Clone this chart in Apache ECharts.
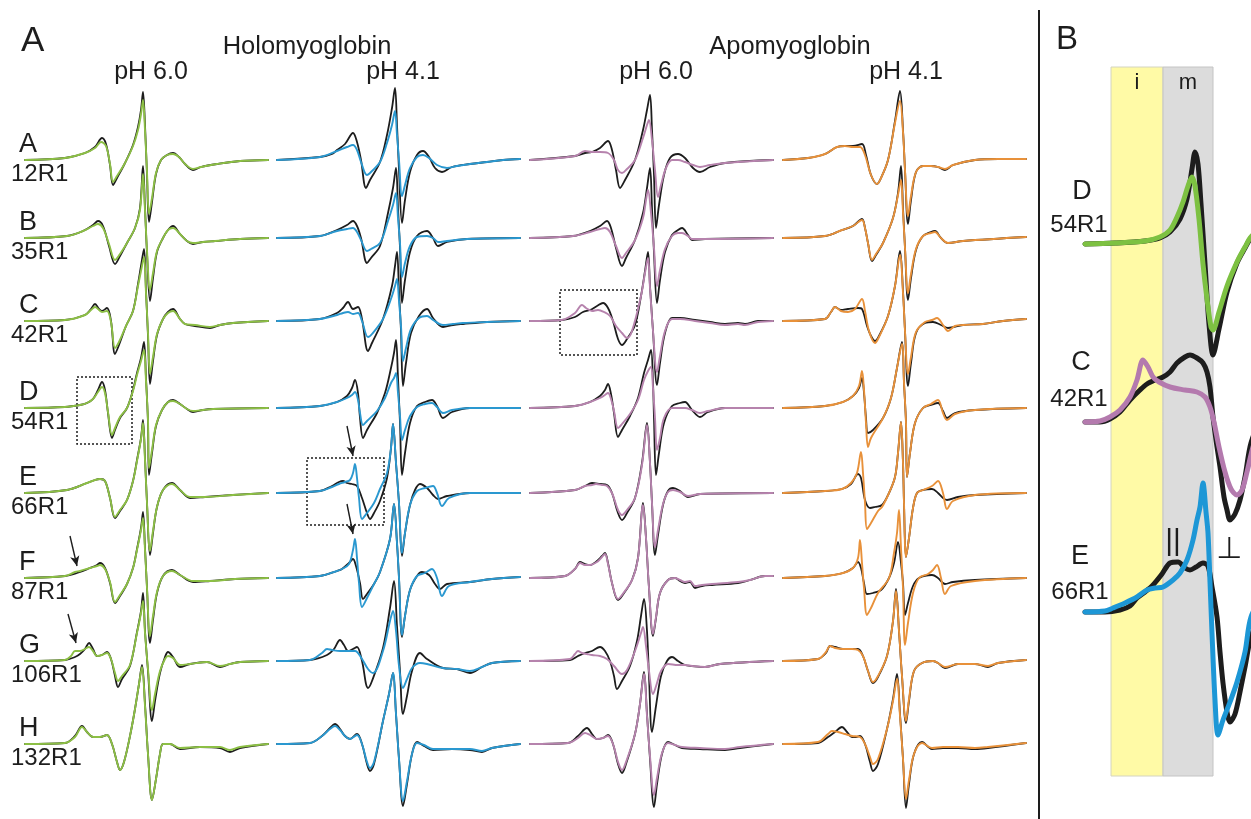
<!DOCTYPE html>
<html>
<head>
<meta charset="utf-8">
<title>EPR spectra of myoglobin mutants</title>
<script src="https://cdn.jsdelivr.net/npm/echarts/dist/echarts.min.js"></script>
<style>
html,body{margin:0;padding:0;background:#fff}
#container{width:1251px;height:819px}
</style>
</head>
<body>
<div id="container"></div>
<script>
// labels
var rowLetters = ['A','B','C','D','E','F','G','H'];
var rowSites = ['12R1','35R1','42R1','54R1','66R1','87R1','106R1','132R1'];
var proteinTitles = ['Holomyoglobin','Apomyoglobin'];
var phLabels = ['pH 6.0','pH 4.1','pH 6.0','pH 4.1'];
var bandNames = ['i','m'];

// spectra: [field (px from sweep start), amplitude (px above baseline)]
var holo60Black = [
  [[0,0],[40,2],[60,7],[70,13],[77,22],[81,16],[85,-5],[88,-25],[92,-18],[100,-3],[108,15],[113,33],[116,50],[118,68],[120,35],[122,-15],[124,-62],[127,-42],[131,-14],[136,0],[142,5],[148,7],[154,3],[160,-4],[168,-10],[176,-7],[192,-4],[215,-1],[243,0]],
  [[0,0],[42,2],[58,7],[68,13],[73,17],[78,12],[84,-8],[90,-26],[95,-18],[102,-5],[110,10],[115,30],[118,72],[120,30],[122,-15],[125,-63],[128,-40],[132,-14],[138,0],[143,8],[148,12],[155,4],[162,-3],[168,-6],[178,-4],[190,-3],[215,-1],[243,0]],
  [[0,0],[40,1],[60,6],[66,12],[70,17],[74,12],[77,10],[82,13],[86,0],[90,-33],[94,-24],[101,-5],[108,10],[113,37],[116,55],[119,72],[121,30],[123,-15],[125,-63],[128,-40],[132,-14],[138,2],[143,9],[148,12],[155,2],[160,-3],[170,-5],[185,-7],[195,-4],[208,-2],[243,0]],
  [[0,0],[40,1],[55,3],[62,5],[68,9],[73,18],[77,26],[80,18],[83,-5],[87,-30],[90,-22],[95,-10],[102,0],[108,18],[112,35],[116,50],[119,66],[121,30],[123,-15],[124,-67],[127,-45],[131,-18],[137,-2],[143,6],[148,8],[155,4],[162,-1],[168,-4],[178,-2],[188,-1],[243,0]],
  [[0,0],[42,3],[62,10],[70,13],[75,14],[80,12],[85,-5],[90,-25],[95,-18],[102,-7],[108,12],[112,33],[116,55],[118,73],[120,35],[122,-10],[125,-62],[128,-40],[132,-14],[138,3],[147,10],[155,3],[165,-5],[180,-4],[208,-2],[243,0]],
  [[0,0],[40,2],[52,5],[65,10],[72,13],[75,15],[80,10],[85,-5],[90,-25],[95,-18],[102,-6],[108,10],[112,29],[116,50],[118,66],[120,30],[122,-10],[125,-65],[128,-42],[132,-15],[138,2],[147,8],[155,3],[168,-4],[185,-3],[210,-1],[243,0]],
  [[0,0],[40,1],[50,4],[55,7],[60,12],[64,18],[68,12],[72,5],[77,6],[82,9],[86,2],[90,-15],[93,-26],[97,-18],[105,-5],[112,29],[116,50],[118,68],[120,30],[123,-10],[127,-60],[130,-40],[135,-12],[140,4],[143,9],[148,4],[155,-6],[165,-3],[182,-1],[195,-6],[205,-3],[215,-1],[243,0]],
  [[0,0],[40,1],[50,8],[57,18],[62,12],[68,7],[75,7],[82,9],[87,0],[92,-18],[95,-26],[99,-18],[105,8],[110,35],[114,60],[117,79],[120,40],[123,-10],[127,-56],[131,-35],[135,-10],[138,0],[145,0],[155,-5],[175,-3],[195,-4],[205,-8],[215,-4],[243,0]]
];
var holo60Green = [
  [[0,0],[40,2],[60,7],[70,12],[76,18],[81,14],[85,-4],[88,-22],[92,-16],[100,-3],[108,14],[113,30],[116,46],[118,60],[120,30],[122,-12],[124,-54],[127,-38],[131,-13],[136,0],[142,5],[148,6],[154,3],[160,-4],[168,-9],[176,-7],[192,-4],[215,-1],[243,0]],
  [[0,0],[42,2],[58,7],[68,12],[73,14],[78,10],[84,-6],[90,-22],[95,-16],[102,-5],[110,10],[115,28],[118,64],[120,28],[122,-12],[125,-52],[128,-35],[132,-13],[138,0],[143,8],[148,10],[155,4],[162,-3],[168,-5],[178,-4],[190,-3],[215,-1],[243,0]],
  [[0,0],[40,1],[60,6],[66,11],[70,14],[74,11],[77,9],[82,10],[86,-1],[90,-27],[94,-21],[101,-5],[108,10],[113,35],[116,50],[119,64],[121,28],[123,-12],[125,-53],[128,-36],[132,-13],[138,2],[143,8],[148,10],[155,2],[160,-3],[170,-4],[185,-6],[195,-4],[208,-2],[243,0]],
  [[0,0],[40,1],[55,3],[62,5],[68,9],[73,16],[77,21],[80,15],[83,-4],[87,-27],[90,-20],[95,-9],[102,0],[108,17],[112,33],[116,47],[119,58],[121,27],[123,-12],[124,-60],[127,-42],[131,-17],[137,-2],[143,6],[148,7],[155,4],[162,-1],[168,-3],[178,-2],[188,-1],[243,0]],
  [[0,0],[42,3],[62,10],[70,13],[75,14],[80,12],[85,-5],[90,-24],[95,-17],[102,-7],[108,12],[112,32],[116,54],[118,70],[120,33],[122,-10],[125,-58],[128,-38],[132,-14],[138,3],[147,9],[155,3],[165,-4],[180,-4],[208,-2],[243,0]],
  [[0,0],[40,2],[50,6],[55,7],[65,10],[72,12],[75,13],[80,9],[85,-4],[90,-24],[95,-17],[102,-6],[108,10],[112,28],[116,48],[118,60],[120,28],[122,-10],[125,-58],[128,-38],[132,-14],[138,2],[147,7],[155,3],[168,-3],[185,-3],[210,-1],[243,0]],
  [[0,0],[40,1],[46,5],[50,10],[55,10],[60,12],[64,14],[68,10],[72,5],[77,6],[82,8],[86,2],[90,-12],[93,-20],[97,-15],[105,-4],[112,28],[116,48],[118,60],[120,28],[123,-8],[127,-49],[130,-33],[135,-10],[140,2],[143,5],[148,3],[155,-4],[165,-3],[182,-1],[195,-5],[205,-3],[215,-1],[243,0]],
  [[0,0],[40,1],[50,7],[57,17],[62,12],[68,7],[75,7],[82,9],[87,0],[92,-18],[95,-26],[99,-18],[105,8],[110,35],[114,60],[117,77],[120,38],[123,-10],[127,-56],[131,-35],[135,-10],[138,0],[145,0],[155,-4],[175,-3],[195,-3],[205,-6],[215,-3],[243,0]]
];
var holo41Black = [
  [[0,0],[43,3],[55,6],[60,10],[68,16],[76,27],[80,18],[84,0],[89,-28],[93,-20],[103,-2],[110,25],[115,52],[118,72],[120,35],[122,-10],[125,-63],[128,-40],[133,-12],[140,5],[146,9],[152,3],[158,-8],[165,-12],[175,-7],[193,-4],[210,-2],[226,0],[243,1]],
  [[0,0],[43,2],[60,8],[70,13],[76,17],[80,12],[84,0],[90,-25],[94,-20],[103,-8],[111,25],[116,50],[119,70],[121,30],[123,-10],[125,-65],[128,-42],[133,-14],[140,2],[150,7],[156,0],[161,-8],[170,-4],[190,-1],[243,0]],
  [[0,0],[43,2],[60,8],[66,13],[71,19],[76,12],[81,14],[85,2],[91,-30],[95,-22],[106,2],[115,35],[118,55],[120,69],[122,30],[124,-10],[126,-65],[129,-42],[134,-12],[142,5],[150,12],[156,3],[166,-6],[176,-4],[186,-3],[210,-1],[243,0]],
  [[0,0],[43,2],[60,6],[70,12],[75,20],[78,28],[81,15],[83,-10],[86,-30],[90,-22],[100,-5],[108,15],[114,40],[117,55],[119,68],[121,30],[123,-15],[125,-67],[128,-45],[133,-15],[140,2],[148,6],[155,8],[160,2],[166,-10],[175,-4],[193,0],[243,0]],
  [[0,0],[43,2],[55,7],[62,11],[66,12],[70,10],[75,9],[80,7],[85,-5],[90,-20],[93,-26],[97,-20],[103,-8],[110,15],[114,45],[116,69],[119,30],[122,-10],[125,-63],[128,-40],[133,-12],[138,3],[143,9],[150,5],[156,-2],[161,-6],[170,-3],[193,0],[243,0]],
  [[0,0],[43,2],[60,7],[65,9],[72,15],[76,19],[79,12],[83,-5],[86,-21],[90,-16],[97,-6],[103,6],[113,39],[117,74],[120,35],[122,0],[125,-59],[128,-38],[133,-12],[140,2],[145,6],[152,3],[158,-6],[163,-11],[170,-6],[193,-4],[215,-1],[243,1]],
  [[0,0],[33,1],[50,6],[57,12],[63,21],[67,16],[71,10],[76,12],[80,14],[85,0],[91,-27],[95,-20],[106,13],[113,53],[117,80],[120,35],[123,-10],[126,-53],[130,-35],[135,-10],[143,8],[150,2],[166,-7],[180,-8],[193,-12],[205,-6],[215,-2],[243,0]],
  [[0,0],[33,1],[45,8],[53,16],[58,20],[63,15],[68,8],[73,5],[80,10],[85,0],[90,-20],[93,-27],[97,-20],[106,23],[112,50],[116,71],[119,30],[122,-15],[126,-62],[130,-40],[135,-10],[140,2],[147,-2],[156,-6],[175,-5],[193,-6],[205,-8],[215,-4],[243,0]]
];
var holo41Blue = [
  [[0,0],[43,3],[60,9],[70,13],[76,15],[80,10],[84,-2],[90,-15],[94,-12],[103,-2],[110,17],[115,35],[118,49],[120,25],[122,0],[125,-36],[128,-25],[133,-8],[140,3],[146,5],[152,2],[160,-5],[170,-8],[180,-6],[193,-4],[210,-2],[226,0],[243,1]],
  [[0,0],[43,2],[60,7],[70,9],[76,10],[80,6],[84,-2],[90,-13],[94,-11],[103,-5],[111,17],[116,33],[119,45],[121,20],[123,-5],[125,-39],[128,-25],[133,-8],[140,1],[150,2],[156,0],[161,-4],[170,-3],[190,-1],[243,0]],
  [[0,0],[43,2],[60,6],[66,8],[71,9],[76,7],[81,8],[85,0],[91,-16],[95,-13],[106,2],[115,25],[118,35],[120,42],[122,20],[124,-5],[126,-40],[129,-27],[134,-8],[142,3],[150,5],[156,1],[166,-4],[176,-3],[186,-2],[210,-1],[243,0]],
  [[0,0],[43,2],[60,6],[70,10],[75,13],[78,16],[81,8],[83,-5],[86,-17],[90,-13],[100,-3],[108,10],[114,25],[117,30],[119,35],[121,15],[123,-8],[125,-32],[128,-22],[133,-8],[140,1],[148,4],[155,5],[160,1],[166,-5],[175,-2],[193,0],[243,0]],
  [[0,0],[43,2],[55,6],[62,9],[68,11],[73,13],[76,20],[78,29],[80,15],[82,-5],[85,-26],[90,-20],[97,-10],[103,4],[110,20],[114,45],[116,69],[119,30],[122,-10],[125,-60],[128,-40],[133,-12],[140,2],[148,5],[156,7],[160,0],[165,-13],[172,-5],[193,0],[243,0]],
  [[0,0],[43,2],[60,7],[65,9],[72,14],[76,28],[78,39],[80,20],[82,-5],[85,-29],[90,-20],[97,-6],[103,6],[113,39],[117,74],[120,35],[122,0],[125,-57],[128,-38],[133,-12],[140,2],[148,5],[155,9],[160,0],[165,-18],[172,-8],[193,-4],[215,-1],[243,1]],
  [[0,0],[33,1],[45,8],[50,12],[55,11],[63,10],[71,10],[78,10],[85,2],[91,-8],[96,-12],[106,10],[113,40],[116,50],[119,30],[122,-5],[126,-27],[130,-18],[135,-7],[143,-2],[150,-3],[166,-7],[180,-8],[193,-10],[205,-6],[215,-2],[243,0]],
  [[0,0],[33,1],[45,8],[53,15],[58,18],[63,14],[68,8],[73,5],[80,9],[85,0],[90,-18],[93,-24],[97,-18],[106,23],[112,50],[116,71],[119,30],[122,-15],[126,-57],[130,-37],[135,-10],[140,1],[147,-1],[156,-5],[175,-5],[193,-5],[205,-7],[215,-4],[243,0]]
];
var apo60Black = [
  [[0,0],[45,4],[55,7],[62,8],[70,12],[78,19],[82,10],[86,-10],[90,-28],[95,-20],[105,0],[113,30],[117,50],[120,65],[122,30],[124,-15],[126,-68],[129,-45],[134,-15],[140,2],[148,6],[155,2],[163,-8],[170,-12],[180,-7],[195,-3],[243,0]],
  [[0,0],[43,2],[60,7],[70,12],[77,17],[81,10],[86,-10],[92,-28],[96,-20],[105,-2],[113,25],[117,50],[120,70],[122,30],[124,-15],[127,-65],[130,-42],[135,-14],[142,3],[148,8],[152,10],[158,3],[162,-2],[175,-1],[243,0]],
  [[0,0],[32,1],[45,4],[53,9],[60,11],[67,15],[73,18],[78,13],[83,0],[88,-18],[92,-24],[97,-18],[105,-4],[111,25],[115,50],[118,69],[120,35],[123,-10],[127,-64],[130,-42],[135,-12],[142,3],[150,3],[165,1],[180,-1],[195,-3],[208,-2],[215,-3],[228,0],[243,0]],
  [[0,0],[45,2],[60,6],[70,12],[75,18],[78,24],[81,14],[84,-5],[88,-29],[92,-22],[100,-8],[108,10],[114,35],[118,48],[121,58],[123,25],[124,-10],[126,-67],[129,-45],[134,-15],[142,2],[150,5],[155,6],[162,-2],[170,-9],[178,-4],[195,0],[243,0]],
  [[0,0],[45,3],[55,7],[62,10],[70,9],[77,8],[82,0],[88,-20],[92,-27],[97,-20],[105,-5],[112,30],[117,70],[120,30],[122,-10],[125,-62],[128,-42],[133,-12],[138,2],[143,5],[150,2],[158,-4],[170,-1],[243,0]],
  [[0,0],[35,2],[45,9],[50,16],[55,14],[60,13],[67,17],[72,22],[75,25],[78,15],[82,-5],[88,-22],[92,-18],[102,-2],[108,20],[113,75],[116,40],[119,-10],[123,-58],[126,-40],[130,-15],[138,-2],[145,0],[150,-3],[155,-5],[160,-4],[165,-10],[172,-8],[182,-7],[208,-5],[220,-2],[235,2],[243,2]],
  [[0,0],[40,1],[48,5],[55,8],[62,10],[70,14],[75,10],[80,0],[84,-15],[87,-28],[92,-20],[100,-5],[107,20],[111,45],[114,62],[117,30],[119,-15],[122,-71],[126,-45],[131,-15],[137,0],[142,4],[148,0],[155,-4],[162,-5],[175,-6],[190,-3],[243,0]],
  [[0,0],[38,1],[48,8],[57,16],[62,10],[67,5],[73,6],[78,9],[83,0],[88,-20],[92,-29],[96,-20],[105,10],[110,40],[114,72],[117,30],[120,-15],[124,-63],[127,-40],[132,-10],[138,2],[145,-1],[152,-4],[170,-5],[195,-6],[210,-4],[243,0]]
];
var apo60Purple = [
  [[0,0],[45,4],[55,9],[62,8],[70,8],[78,7],[84,0],[88,-10],[92,-13],[97,-9],[105,0],[113,22],[117,35],[119,40],[122,20],[125,-10],[128,-37],[131,-25],[136,-8],[142,0],[148,0],[155,-2],[163,-5],[170,-7],[180,-5],[195,-3],[243,0]],
  [[0,0],[43,2],[60,6],[70,9],[75,10],[80,6],[86,-8],[92,-20],[96,-15],[105,-2],[113,20],[116,38],[118,48],[121,25],[124,-10],[127,-48],[130,-32],[135,-11],[142,2],[148,5],[152,5],[158,2],[162,-1],[175,-1],[243,0]],
  [[0,0],[32,1],[45,8],[52,16],[56,13],[62,10],[68,11],[74,9],[80,5],[86,-5],[92,-12],[97,-17],[102,-10],[111,25],[115,48],[118,63],[120,33],[123,-10],[127,-51],[130,-35],[135,-10],[142,2],[150,2],[165,0],[180,-2],[195,-4],[208,-3],[215,-4],[228,-1],[243,0]],
  [[0,0],[45,2],[60,6],[70,10],[75,13],[78,15],[81,9],[84,-3],[88,-20],[92,-16],[100,-6],[108,8],[114,28],[118,37],[121,41],[123,20],[125,-10],[127,-42],[130,-30],[134,-10],[142,0],[150,0],[155,0],[162,-2],[170,-5],[178,-3],[195,0],[243,0]],
  [[0,0],[45,3],[55,7],[62,8],[66,9],[72,8],[77,7],[82,0],[88,-17],[92,-22],[97,-17],[105,-5],[112,28],[117,68],[120,30],[122,-10],[125,-54],[128,-37],[133,-11],[138,1],[143,3],[150,1],[158,-3],[170,-1],[243,0]],
  [[0,0],[35,2],[45,9],[50,15],[55,13],[60,13],[67,16],[72,21],[75,24],[78,14],[82,-5],[88,-21],[92,-17],[102,-2],[108,20],[113,73],[116,40],[119,-10],[123,-56],[126,-39],[130,-15],[138,-2],[145,0],[150,-2],[155,-4],[160,-3],[165,-8],[172,-7],[182,-6],[208,-4],[220,-2],[235,2],[243,2]],
  [[0,0],[40,2],[45,7],[48,10],[52,8],[57,7],[62,6],[70,5],[77,2],[84,-5],[92,-13],[97,-9],[105,10],[111,28],[113,34],[116,15],[119,-10],[123,-33],[127,-22],[131,-10],[138,-3],[148,-4],[155,-4],[162,-5],[175,-6],[190,-3],[243,0]],
  [[0,0],[38,1],[48,6],[55,11],[60,9],[67,5],[73,6],[78,8],[83,0],[88,-18],[92,-26],[96,-18],[105,10],[110,40],[114,70],[117,28],[120,-12],[124,-51],[127,-34],[132,-9],[138,1],[145,-1],[152,-3],[170,-4],[195,-5],[210,-3],[243,0]]
];
var apo41Black = [
  [[0,0],[25,2],[42,6],[54,13],[62,14],[70,14],[79,16],[83,5],[88,-15],[94,-24],[98,-18],[105,0],[112,39],[117,69],[120,30],[122,-10],[125,-64],[128,-40],[133,-12],[140,-6],[148,-6],[155,-7],[162,-10],[170,-5],[192,0],[215,1],[243,1]],
  [[0,0],[42,2],[59,8],[70,12],[79,19],[82,10],[85,-5],[89,-23],[93,-17],[100,-5],[110,20],[115,45],[118,72],[120,30],[122,-10],[125,-62],[128,-40],[133,-12],[140,2],[148,6],[152,7],[158,0],[165,-5],[180,-3],[243,1]],
  [[0,0],[42,2],[48,9],[52,14],[58,11],[65,12],[75,13],[79,12],[84,-5],[88,-15],[92,-20],[96,-15],[105,5],[112,35],[117,70],[120,30],[122,-10],[125,-65],[128,-42],[133,-12],[142,-2],[150,-1],[158,-4],[165,-7],[180,-4],[200,-3],[220,0],[243,2]],
  [[0,0],[42,2],[60,6],[70,12],[76,20],[79,30],[81,15],[83,-10],[85,-25],[90,-22],[100,-10],[108,10],[114,40],[119,66],[121,25],[123,-15],[124,-69],[127,-45],[132,-15],[140,0],[148,3],[155,5],[160,-3],[164,-10],[172,-5],[192,-2],[243,0]],
  [[0,0],[42,2],[59,4],[68,9],[75,19],[78,15],[82,-7],[87,-15],[92,-14],[99,-12],[106,0],[112,16],[115,40],[118,71],[120,30],[121,-10],[123,-64],[126,-45],[130,-15],[134,0],[140,3],[149,4],[155,0],[160,-5],[164,-7],[175,-4],[192,-2],[243,0]],
  [[0,0],[42,2],[60,5],[70,10],[75,16],[78,10],[81,-5],[84,-16],[90,-15],[98,-12],[106,0],[111,15],[115,36],[118,15],[120,-5],[122,-37],[125,-25],[130,-8],[136,0],[149,3],[155,0],[162,-6],[170,-4],[192,-2],[243,0]],
  [[0,0],[35,2],[43,8],[47,15],[52,14],[60,12],[69,12],[75,12],[80,5],[85,-10],[90,-22],[95,-16],[104,5],[110,40],[113,72],[116,30],[119,-15],[123,-62],[126,-40],[131,-10],[139,-2],[150,0],[155,-2],[162,-7],[175,-3],[192,-3],[205,-6],[215,-2],[243,1]],
  [[0,0],[35,1],[45,7],[52,12],[59,17],[64,12],[69,7],[73,7],[77,8],[82,0],[87,-18],[90,-27],[95,-20],[104,15],[110,45],[114,70],[117,30],[120,-15],[123,-64],[126,-40],[131,-10],[139,2],[149,-5],[160,-4],[175,-4],[192,-5],[205,-4],[243,1]]
];
var apo41Orange = [
  [[0,0],[25,2],[42,6],[54,13],[62,14],[70,13],[77,13],[82,5],[88,-15],[94,-24],[98,-18],[105,0],[112,37],[117,59],[120,28],[122,-10],[125,-56],[128,-36],[133,-12],[140,-6],[148,-6],[155,-7],[162,-9],[170,-5],[192,0],[215,1],[243,1]],
  [[0,0],[42,2],[59,8],[70,12],[79,18],[82,10],[85,-5],[89,-22],[93,-16],[100,-5],[110,20],[115,43],[118,58],[120,26],[122,-10],[125,-55],[128,-36],[133,-11],[140,2],[148,5],[152,6],[158,0],[165,-5],[180,-3],[243,1]],
  [[0,0],[42,2],[48,9],[52,14],[58,10],[65,9],[72,12],[79,22],[82,10],[86,-10],[92,-22],[96,-16],[105,5],[112,35],[117,66],[120,28],[122,-10],[125,-53],[128,-36],[133,-11],[142,-1],[149,1],[154,3],[160,-4],[165,-10],[172,-5],[180,-4],[200,-3],[220,0],[243,2]],
  [[0,0],[42,2],[60,6],[70,12],[76,22],[79,37],[81,18],[83,-15],[85,-39],[88,-30],[100,-10],[108,10],[114,40],[119,64],[121,25],[123,-15],[124,-69],[127,-45],[132,-15],[140,0],[148,4],[155,8],[160,-5],[164,-12],[172,-6],[192,-2],[243,0]],
  [[0,0],[42,2],[59,4],[68,10],[74,20],[78,41],[80,20],[82,-10],[84,-36],[88,-30],[95,-18],[99,-14],[106,0],[112,16],[115,40],[118,71],[120,30],[121,-10],[123,-64],[126,-45],[130,-15],[134,0],[140,3],[149,7],[155,12],[160,0],[164,-16],[170,-8],[192,-2],[243,0]],
  [[0,0],[42,2],[60,5],[70,10],[75,20],[77,38],[79,15],[81,-10],[84,-37],[88,-30],[95,-15],[106,0],[111,25],[114,45],[116,68],[118,30],[120,-10],[122,-67],[125,-45],[130,-15],[136,0],[145,4],[150,8],[154,13],[158,0],[162,-16],[168,-8],[192,-3],[243,0]],
  [[0,0],[35,2],[43,9],[47,15],[52,13],[60,12],[69,12],[75,11],[80,5],[85,-10],[90,-21],[95,-15],[104,5],[110,40],[113,70],[116,30],[119,-15],[123,-60],[126,-38],[131,-10],[139,-2],[150,0],[155,-2],[162,-6],[175,-3],[192,-3],[205,-5],[215,-2],[243,1]],
  [[0,0],[35,2],[45,10],[49,13],[55,12],[62,10],[69,8],[77,7],[82,0],[87,-13],[90,-20],[95,-15],[104,15],[110,43],[114,65],[117,28],[120,-15],[123,-55],[126,-36],[131,-10],[139,1],[149,-4],[160,-3],[175,-3],[192,-4],[205,-3],[243,1]]
];

// panel B, magnified low-field region (D, C, E)
var zoomDBlack = [[0,0],[30,1],[60,3],[75,6],[85,12],[95,25],[102,45],[107,75],[110,92],[113,80],[116,40],[120,-20],[124,-80],[128,-111],[134,-85],[142,-48],[152,-19],[160,-4],[166,6],[180,19]];
var zoomDGreen = [[0,0],[30,1],[60,3],[75,7],[85,14],[92,27],[98,42],[103,58],[107,67],[110,58],[114,25],[118,-20],[122,-55],[126,-83],[128,-86],[134,-68],[142,-42],[152,-18],[160,-3],[166,7],[180,20]];
var zoomCBlack = [[0,0],[15,0],[25,3],[35,10],[45,22],[55,32],[62,38],[70,42],[78,45],[85,50],[92,59],[100,65],[105,67],[112,64],[118,59],[122,50],[125,35],[128,5],[132,-25],[135,-45],[139,-75],[142,-88],[145,-98],[150,-92],[155,-78],[160,-55],[166,-21],[180,15]];
var zoomCPurple = [[0,0],[15,1],[25,5],[35,12],[45,25],[52,42],[58,62],[63,55],[68,45],[74,40],[85,35],[100,32],[112,30],[120,25],[125,15],[129,0],[134,-25],[140,-50],[146,-67],[152,-73],[157,-68],[162,-50],[168,-25],[180,10]];
var zoomEBlack = [[0,0],[20,0],[35,2],[45,6],[52,14],[60,20],[68,27],[77,38],[85,49],[93,50],[100,44],[105,42],[111,45],[118,49],[123,46],[127,25],[132,-5],[135,-40],[138,-71],[142,-100],[145,-110],[150,-102],[155,-80],[160,-55],[166,-25],[180,10]];
var zoomEBlue = [[0,0],[20,1],[28,4],[40,9],[52,15],[62,22],[70,24],[78,25],[88,32],[95,39],[102,52],[108,72],[112,92],[115,105],[118,129],[121,100],[123,79],[125,30],[127,-21],[130,-88],[133,-123],[138,-108],[145,-90],[152,-70],[160,-40],[166,-5],[180,20]];
var bandEdges = [26, 78, 128];

// layout
var FONT = '"Liberation Sans", Arial, sans-serif';
var INK = '#1d1d1d';
var colLeft = [25, 277, 530, 783];
var rowBase = [160, 238, 321, 408, 493, 578, 661, 744];
var columns = [
  {ref: holo60Black, fit: holo60Green, color: '#8cbf45'},
  {ref: holo41Black, fit: holo41Blue, color: '#2a98d0'},
  {ref: apo60Black, fit: apo60Purple, color: '#b683ad'},
  {ref: apo41Black, fit: apo41Orange, color: '#e8913a'}
];
var PB_LEFT = 1085, PB_W = 166;

var grids = [], xAxes = [], yAxes = [], series = [], graphics = [];

function addGrid(left, top, width, height, xmax, ymin, ymax) {
  var i = grids.length;
  grids.push({left: left, top: top, width: width, height: height});
  xAxes.push({type: 'value', gridIndex: i, min: 0, max: xmax, show: false});
  yAxes.push({type: 'value', gridIndex: i, min: ymin, max: ymax, show: false});
  return i;
}

function spectrum(g, data, color, width, z, smooth) {
  return {
    type: 'line', xAxisIndex: g, yAxisIndex: g, data: data,
    showSymbol: false, smooth: smooth, clip: false,
    silent: true, z: z,
    lineStyle: {color: color, width: width, cap: 'round', join: 'round'}
  };
}

function addText(x, y, text, size, align, family) {
  graphics.push({
    type: 'text', x: x, y: y, silent: true, z: 100,
    style: {text: text, font: size + 'px ' + (family || FONT), fill: INK,
      textAlign: align || 'center', textVerticalAlign: 'middle'}
  });
}

// annotations in spectrum coordinates (col, row)
var boxes = [
  {col: 0, row: 3, from: [52, 31], to: [107, -36]},
  {col: 1, row: 4, from: [30, 35], to: [107, -32]},
  {col: 2, row: 2, from: [30, 31], to: [107, -34]}
];
var arrows = [
  {col: 0, row: 5, from: [45, 42], to: [52, 12]},
  {col: 0, row: 6, from: [43, 47], to: [51, 18]},
  {col: 1, row: 4, from: [70, 67], to: [76, 37]},
  {col: 1, row: 5, from: [70, 74], to: [76, 44]}
];

// panel A: one small grid per spectrum, 1 unit = 1 px
for (var c = 0; c < 4; c++) {
  for (var r = 0; r < 8; r++) {
    var g = addGrid(colLeft[c], rowBase[r] - 75, 243, 150, 243, -75, 75);
    var black = spectrum(g, columns[c].ref[r], INK, 1.8, 2, 0.35);
    boxes.forEach(function (b) {
      if (b.col === c && b.row === r) {
        black.markArea = {
          silent: true,
          itemStyle: {color: 'rgba(0,0,0,0)', borderColor: INK, borderWidth: 1.5, borderType: [2, 2]},
          label: {show: false},
          data: [[{coord: b.from}, {coord: b.to}]]
        };
      }
    });
    arrows.forEach(function (a) {
      if (a.col === c && a.row === r) {
        black.markLine = {
          silent: true, symbol: ['none', 'arrow'], symbolSize: [7, 10],
          lineStyle: {color: INK, width: 1.4, type: 'solid'},
          label: {show: false},
          data: [[{coord: a.from}, {coord: a.to}]]
        };
      }
    });
    series.push(black);
    series.push(spectrum(g, columns[c].fit[r], columns[c].color, 1.9, 3, 0.35));
  }
}

// panel B bands
var gb = addGrid(PB_LEFT, 67, PB_W, 709, PB_W, 0, 1);
series.push({
  type: 'line', xAxisIndex: gb, yAxisIndex: gb, data: [[0, 0]], showSymbol: false,
  lineStyle: {opacity: 0}, silent: true, z: 0,
  markArea: {
    silent: true,
    label: {show: true, position: 'insideTop', distance: 5, fontSize: 22, fontFamily: FONT, color: INK, formatter: '{b}'},
    data: [
      [{name: bandNames[0], xAxis: bandEdges[0], itemStyle: {color: '#fffaa6', borderColor: '#d4d4c0', borderWidth: 1}}, {xAxis: bandEdges[1]}],
      [{name: bandNames[1], xAxis: bandEdges[1], itemStyle: {color: '#dcdcdc', borderColor: '#c4c4c4', borderWidth: 1}}, {xAxis: bandEdges[2]}]
    ]
  }
});

// panel B spectra
var zoomRows = [
  {base: 244, ref: zoomDBlack, fit: zoomDGreen, color: '#7dc142'},
  {base: 422, ref: zoomCBlack, fit: zoomCPurple, color: '#b47aae'},
  {base: 612, ref: zoomEBlack, fit: zoomEBlue, color: '#1d97d6'}
];
zoomRows.forEach(function (zr) {
  var g2 = addGrid(PB_LEFT, zr.base - 150, PB_W, 300, PB_W, -150, 150);
  series.push(spectrum(g2, zr.ref, INK, 5, 4, 0.3));
  series.push(spectrum(g2, zr.fit, zr.color, 5, 5, 0.3));
});

// texts
addText(21, 41, 'A', 35, 'left');
addText(307, 47, proteinTitles[0], 25.5);
addText(790, 47, proteinTitles[1], 25.5);
var phX = [151, 403, 656, 906];
for (var k = 0; k < 4; k++) addText(phX[k], 72, phLabels[k], 25);
for (var r2 = 0; r2 < 8; r2++) {
  addText(19, rowBase[r2] - 15, rowLetters[r2], 27, 'left');
  addText(11, rowBase[r2] + 14, rowSites[r2], 24, 'left');
}
addText(1056, 40, 'B', 33, 'left');
addText(1082, 192, rowLetters[3], 27);
addText(1079, 225, rowSites[3], 24);
addText(1081, 363, rowLetters[2], 27);
addText(1079, 399, rowSites[2], 24);
addText(1080, 557, rowLetters[4], 27);
addText(1080, 592, rowSites[4], 24);
addText(1173, 542, '||', 30);
addText(1229, 550, '\u22A5', 30, 'center', '"DejaVu Sans", sans-serif');
graphics.push({type: 'line', silent: true, z: 100, shape: {x1: 1039, y1: 10, x2: 1039, y2: 819}, style: {stroke: INK, lineWidth: 2}});

var myChart = echarts.init(document.getElementById('container'));
myChart.setOption({
  backgroundColor: '#ffffff',
  animation: false,
  grid: grids,
  xAxis: xAxes,
  yAxis: yAxes,
  series: series,
  graphic: graphics
});
</script>
</body>
</html>
